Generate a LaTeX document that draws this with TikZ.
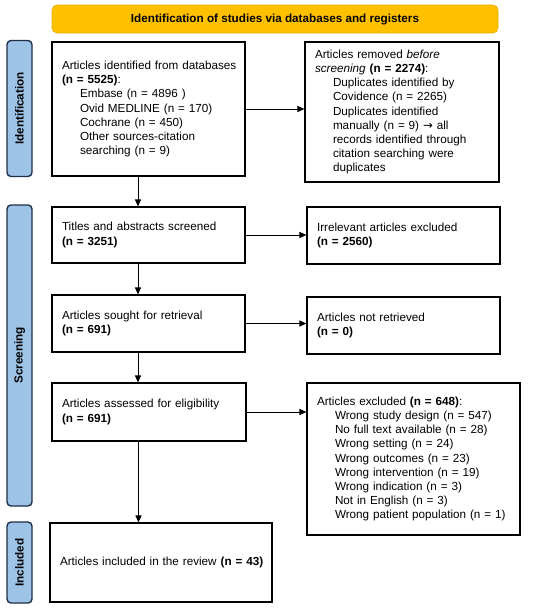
\documentclass[tikz,border=0pt]{standalone}
\usepackage{fontspec}
\setmainfont{Liberation Sans}
\newfontfamily\arrowfont{DejaVu Sans}
\usetikzlibrary{arrows.meta}

\definecolor{bannerfill}{HTML}{FFC000}
\definecolor{sidefill}{HTML}{9DC3E6}
\definecolor{sideline}{HTML}{1F2F4A}

\tikzset{
  box/.style={draw, line width=1.1pt, inner xsep=10pt, inner ysep=0pt, align=left,
    font=\fontsize{11.7}{14.2}\selectfont},
  banner/.style={draw=bannerfill!90!black, fill=bannerfill, line width=0.6pt, rounded corners=5pt,
    minimum width=446pt, minimum height=28pt, font=\fontsize{11.7}{14}\selectfont\bfseries},
  phase/.style={draw=sideline, fill=sidefill, line width=1.4pt, rounded corners=4pt,
    rotate=90, minimum height=25pt, inner sep=0pt, font=\fontsize{11.7}{14}\selectfont\bfseries},
  arr/.style={-{Triangle[length=7pt,width=6pt]}, line width=1pt}
}

\begin{document}
\begin{tikzpicture}[x=1pt,y=-1pt]
\useasboundingbox (0,0) rectangle (550,608);

   \draw (275,19) node[banner] (head) {Identification of studies via databases and registers};

    \draw (19.5,108.5) node[phase, minimum width=136pt] (phaseId) {Identification};
    \draw (19.5,355.5) node[phase, minimum width=301pt] (phaseScr) {Screening};
    \draw (19.5,562.5) node[phase, minimum width=81pt] (phaseInc) {Included};

  \draw (148.5,109) node[box, text width=173pt, minimum height=134pt] (ident) {\mbox{Articles identified from databases}\\
    \textbf{(n = 5525)}:\\
    \hspace*{18pt}Embase (n = 4896 )\\
    \hspace*{18pt}Ovid MEDLINE (n = 170)\\
    \hspace*{18pt}Cochrane (n = 450)\\
    \hspace*{18pt}Other sources-citation\\
    \hspace*{18pt}searching (n = 9)};
  \draw (402,112) node[box, text width=174pt, minimum height=140pt] (removed) {Articles removed \textit{before}\\
    \textit{screening} \textbf{(n = 2274)}:\\
    \hspace*{18pt}Duplicates identified by\\
    \hspace*{18pt}Covidence (n = 2265)\\
    \hspace*{18pt}Duplicates identified\\
    \hspace*{18pt}manually (n = 9) {\arrowfont →} all\\
    \hspace*{18pt}\mbox{records identified through}\\
    \hspace*{18pt}citation searching were\\
    \hspace*{18pt}duplicates};

  \draw (148.5,235) node[box, text width=173pt, minimum height=56pt] (screened) {Titles and abstracts screened\\\textbf{(n = 3251)}};
  \draw (403.5,235.5) node[box, text width=173pt, minimum height=57pt] (irrel) {Irrelevant articles excluded\\\textbf{(n = 2560)}};

  \draw (148.5,323.5) node[box, text width=173pt, minimum height=57pt] (sought) {Articles sought for retrieval\\\textbf{(n = 691)}};
  \draw (403.5,325.5) node[box, text width=173pt, minimum height=57pt] (notret) {Articles not retrieved\\\textbf{(n = 0)}};

  \draw (149,412) node[box, text width=174pt, minimum height=58pt] (assessed) {Articles assessed for eligibility\\\textbf{(n = 691)}};
  \draw (413.5,459) node[box, text width=193pt, minimum height=152pt] (excl) {Articles excluded \textbf{(n = 648)}:\\
    \hspace*{18pt}Wrong study design (n = 547)\\
    \hspace*{18pt}No full text available (n = 28)\\
    \hspace*{18pt}Wrong setting (n = 24)\\
    \hspace*{18pt}Wrong outcomes (n = 23)\\
    \hspace*{18pt}Wrong intervention (n = 19)\\
    \hspace*{18pt}Wrong indication (n = 3)\\
    \hspace*{18pt}Not in English (n = 3)\\
    \hspace*{18pt}\mbox{Wrong patient population (n = 1)}};

  \draw (161,562.5) node[box, text width=202pt, minimum height=79pt] (incl) {\mbox{Articles included in the review \textbf{(n = 43)}}};

       \path[arr] (ident) edge (ident -| removed.west);
       \path[arr] (screened) edge (screened -| irrel.west);
       \path[arr] (sought) edge (sought -| notret.west);
       \path[arr] (assessed) edge (assessed -| excl.west);

       \path[arr] ([xshift=-10.5pt]ident.south) edge ([xshift=-10.5pt]ident.south |- screened.north);
       \path[arr] ([xshift=-10.5pt]screened.south) edge ([xshift=-10.5pt]screened.south |- sought.north);
       \path[arr] ([xshift=-10.5pt]sought.south) edge ([xshift=-10.5pt]sought.south |- assessed.north);
       \path[arr] ([xshift=-10.5pt]assessed.south) edge ([xshift=-10.5pt]assessed.south |- incl.north);

\end{tikzpicture}
\end{document}
